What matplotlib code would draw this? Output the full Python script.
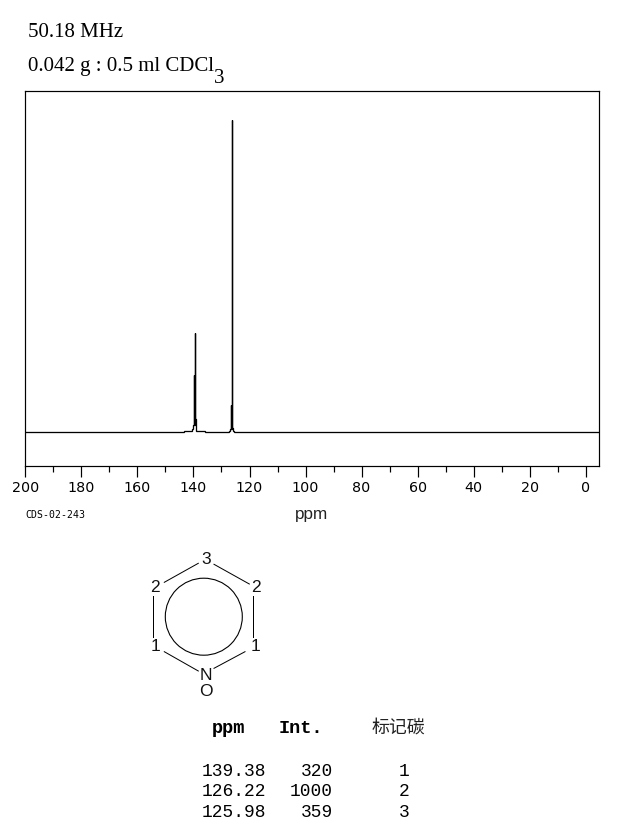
import matplotlib
matplotlib.use("Agg")
import matplotlib.pyplot as plt
from matplotlib.patches import Circle

# Spectrum trace (ppm, relative intensity)
spectrum_ppm = [200, 143.55, 143.55, 141.05, 141.05, 140.45, 140.45, 140.07, 140.07, 139.89, 139.89,
                139.89, 139.56, 139.56, 139.56, 139.23, 139.23, 138.95, 138.95, 135.85, 135.85,
                127.25, 127.25, 126.9, 126.9, 126.65, 126.65, 126.65, 126.3, 126.3, 126.3,
                126.0, 126.0, 125.65, 125.65, -4.9]
spectrum_int = [0, 0, 3, 3, 6, 6, 12, 12, 25, 25, 183,
                25, 25, 320, 42, 42, 6, 6, 3, 3, 0,
                0, 3, 3, 12, 12, 87, 12, 12, 1000, 14,
                14, 3, 3, 0, 0]

major_ticks = list(range(0, 201, 20))
minor_ticks = list(range(10, 200, 20))

header_lines = ["50.18 MHz", "0.042 g : 0.5 ml CDCl"]
subscript = "3"
sample_id = "CDS-02-243"
x_label = "ppm"

table_ppm = ["139.38", "126.22", "125.98"]
table_int = ["320", "1000", "359"]
table_carbon = ["1", "2", "3"]
table_head = ["ppm", "Int.", "标记碳"]

# Molecule diagram, in picture pixels
atom_labels = ["3", "2", "2", "1", "1", "N", "O"]
atom_x = [206, 155, 256, 155, 255, 206, 206]
atom_y = [559, 588, 588, 646.5, 646.5, 675, 691]
bond_x = [(164.3, 198.3), (214, 249.3), (153.3, 153.3), (253.3, 253.3), (164.3, 198.3), (245, 214)]
bond_y = [(582.3, 563.3), (564.3, 584), (596, 636.7), (596, 636.7), (651.7, 671), (651.7, 668.3)]
ring_centre = (203.8, 616.7)
ring_radius = 38.5

W, H = 622, 836
PX = 72 / 100
fig = plt.figure(figsize=(W / 100, H / 100), dpi=100, facecolor="white")

ax = fig.add_axes([25.4 / W, (H - 466.4) / H, (599.4 - 25.4) / W, (466.4 - 90.5) / H])
ax.plot(spectrum_ppm, spectrum_int, color="black", lw=1.3 * PX, solid_joinstyle="miter")
ax.set_xlim(200, -4.9)
ax.set_ylim(-109, 1096)
ax.set_yticks([])
ax.set_xticks(major_ticks)
ax.set_xticks(minor_ticks, minor=True)
ax.set_xticklabels([str(t) for t in major_ticks], family="DejaVu Sans", fontsize=10.3)
ax.tick_params(axis="x", which="major", length=10.5 * PX, width=1.2 * PX, pad=4.5 * PX)
ax.tick_params(axis="x", which="minor", length=5.5 * PX, width=1.2 * PX)
for s in ax.spines.values():
    s.set_linewidth(1.2 * PX)

ov = fig.add_axes([0, 0, 1, 1], facecolor="none")
ov.set_xlim(0, W)
ov.set_ylim(H, 0)
ov.axis("off")

serif = dict(family="Liberation Serif", fontsize=15, va="baseline", ha="left")
ov.text(27.5, 37, header_lines[0], **serif)
ov.text(27.5, 71, header_lines[1], **serif)
ov.text(213.5, 83, subscript, **serif)

ov.text(25, 515.5, sample_id, family="DejaVu Sans Mono", fontsize=7.1, ha="left", va="center")
ov.text(312, 519.5, x_label, family="Liberation Sans", fontsize=12.3, ha="center", va="baseline", color="#222222")

for lab, x, y in zip(atom_labels, atom_x, atom_y):
    ov.text(x, y, lab, family="Liberation Sans", fontsize=12.5, ha="center", va="center", color="#111111")
for xs, ys in zip(bond_x, bond_y):
    ov.plot(xs, ys, color="black", lw=1 * PX)
ov.add_patch(Circle(ring_centre, ring_radius, fill=False, ec="black", lw=1.1 * PX))

mono = dict(family="Liberation Mono", fontsize=12.9, va="baseline", color="black")
head = dict(mono, fontsize=13.4)
ov.text(212, 733, table_head[0], ha="left", weight="bold", **head)
ov.text(278.5, 733, table_head[1], ha="left", weight="bold", **head)
ov.text(398.5, 727.5, table_head[2], family="Noto Sans CJK SC", fontsize=12.9, ha="center", va="center", color="#222222")

for i, (p, n, c) in enumerate(zip(table_ppm, table_int, table_carbon)):
    y = 775.5 + i * 20.7
    ov.text(202, y, p, ha="left", **mono)
    ov.text(333, y, n, ha="right", **mono)
    ov.text(404.5, y, c, ha="center", **mono)

fig.savefig("out.png", dpi=100, facecolor="white")
